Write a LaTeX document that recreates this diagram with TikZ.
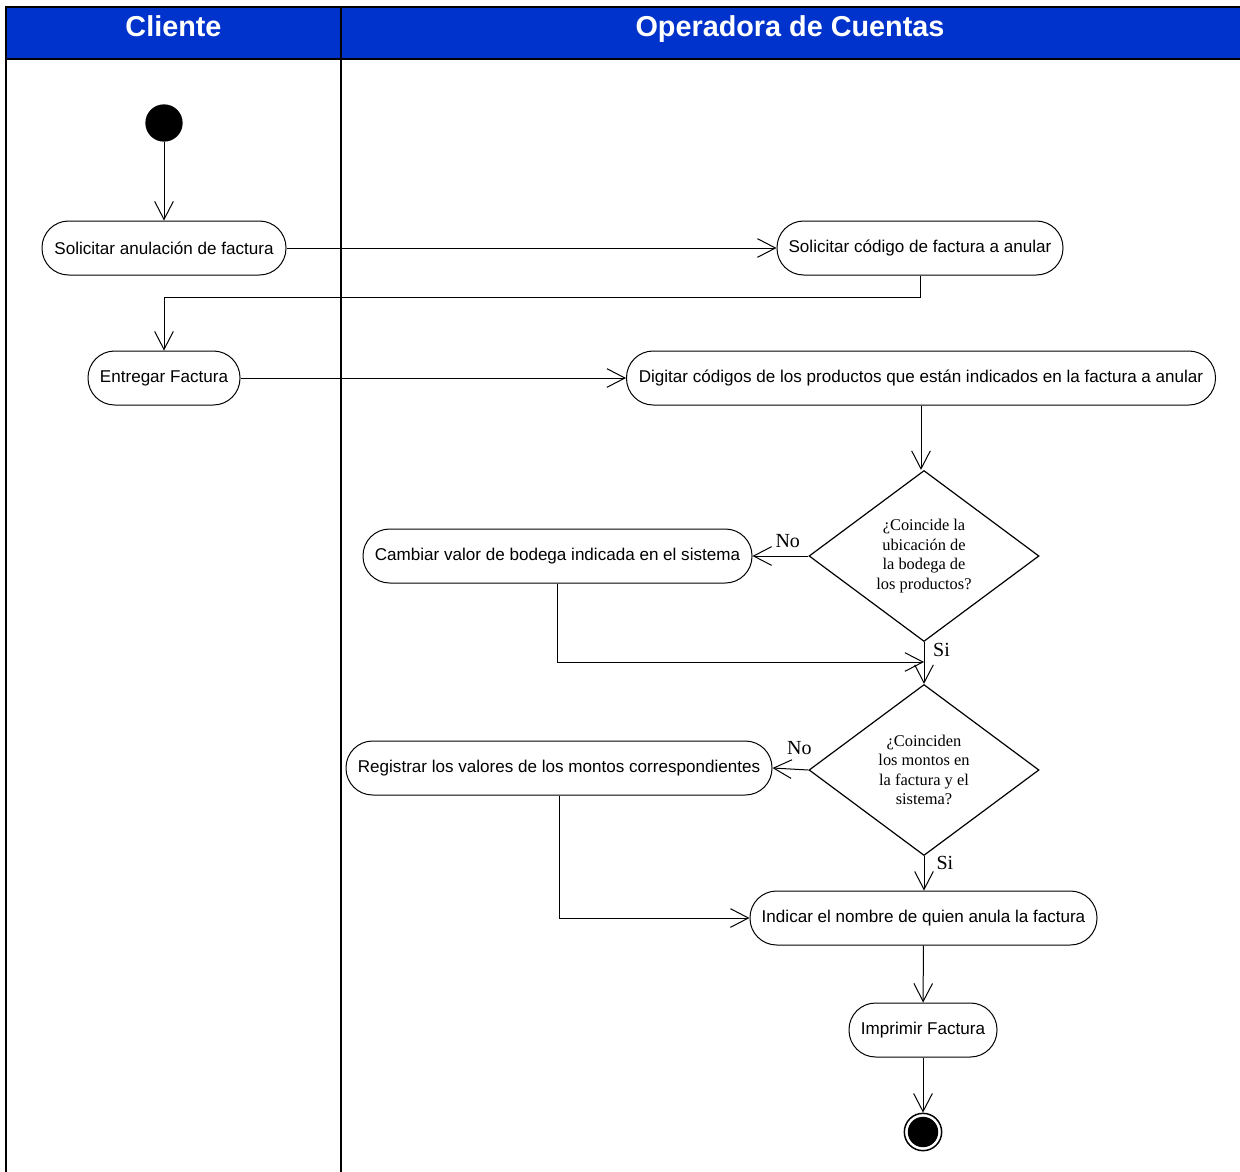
\documentclass[tikz,border=0pt]{standalone}
\usepackage{fontspec}
\setmainfont{Liberation Serif}
\setsansfont{Liberation Sans}
\usetikzlibrary{arrows.meta,shapes.geometric}
\definecolor{hdrblue}{RGB}{0,51,204}
\begin{document}
\begin{tikzpicture}[x=0.75pt,y=-0.75pt,
  act/.style={draw, line width=0.75pt, rounded corners=20pt, minimum height=40.5pt, inner sep=0pt,
    font=\sffamily\fontsize{12.8}{15}\selectfont},
  dec/.style={diamond, draw, line width=0.9pt, minimum width=172.5pt, minimum height=128.25pt, inner sep=0pt,
    align=center, font=\rmfamily\fontsize{12.3}{14.6}\selectfont},
  arr/.style={line width=0.75pt, -{Straight Barb[length=13.5pt,width=14pt]}},
  lbl/.style={font=\rmfamily\fontsize{15}{17}\selectfont, inner sep=1.5pt},
  lane/.style={line width=2.2pt},
  hdrtext/.style={text=white, font=\sffamily\bfseries\fontsize{21.6}{24}\selectfont, anchor=base}]
\clip (0,0) rectangle (1240,1172);
\fill[white] (0,0) rectangle (1240,1172);
% swimlanes
\fill[hdrblue] (6,7) rectangle (1250,59);
\draw[lane] (6,1180) -- (6,7) -- (1250,7);
\draw[lane] (6,59) -- (1250,59);
\draw[lane] (341,7) -- (341,1180);
\node[hdrtext] (h1) at (173.5,36) {Cliente};
\node[hdrtext] (h2) at (790,36) {Operadora de Cuentas};
% nodes
\node[circle, fill=black, minimum size=28pt, inner sep=0pt] (st) at (164,123) {};
\node[act, minimum width=183pt] (a1) at (164,248) {Solicitar anulación de factura};
\node[act, minimum width=214.5pt] (a2) at (920,248) {Solicitar código de factura a anular};
\node[act, minimum width=114pt] (a3) at (164,378) {Entregar Factura};
\node[act, minimum width=441.75pt] (a4) at (921,378) {Digitar códigos de los productos que están indicados en la factura a anular};
\node[dec] (d1) at (924,556) {¿Coincide la\\ubicación de\\la bodega de\\los productos?};
\node[act, minimum width=291.75pt] (a5) at (557.5,556) {Cambiar valor de bodega indicada en el sistema};
\node[dec] (d2) at (924,770) {¿Coinciden\\los montos en\\la factura y el\\sistema?};
\node[act, minimum width=319.5pt] (a6) at (559,768) {Registrar los valores de los montos correspondientes};
\node[act, minimum width=260.25pt] (a7) at (923.5,918) {Indicar el nombre de quien anula la factura};
\node[act, minimum width=111pt] (a8) at (923,1030) {Imprimir Factura};
\node[circle, draw, line width=1.1pt, minimum size=28pt, inner sep=0pt, fill=white] (en) at (923,1132) {};
\fill (en.center) circle (11.4pt);
\coordinate (j1) at (924,662);
% connectors
\draw[arr] (st) -- (a1);
\draw[arr] (a1.east) -- (a2.west);
\draw[arr] (a2.south) -- ++(0,22) -| (a3.north);
\draw[arr] (a3.east) -- (a4.west);
\draw[arr] (a4.south) -- (a4.south |- d1.north);
\draw[arr] (d1.west) -- node[lbl, pos=0.37, above, yshift=4.5pt] {No} (a5.east);
\draw[arr] (a5.south) |- (j1);
\draw[arr] (d1.south) -- node[lbl, pos=0.2, right, xshift=5pt] {Si} (d2.north);
\draw[arr] (d2.west) -- node[lbl, pos=0.25, above, yshift=9.5pt] {No} (a6.east);
\draw[arr] (a6.south) |- (a7.west);
\draw[arr] (d2.south) -- node[lbl, pos=0.2, right, xshift=7.5pt] {Si} (d2.south |- a7.north);
\draw[arr] (a7) -- (a8);
\draw[arr] (a8) -- (en);
\end{tikzpicture}
\end{document}
